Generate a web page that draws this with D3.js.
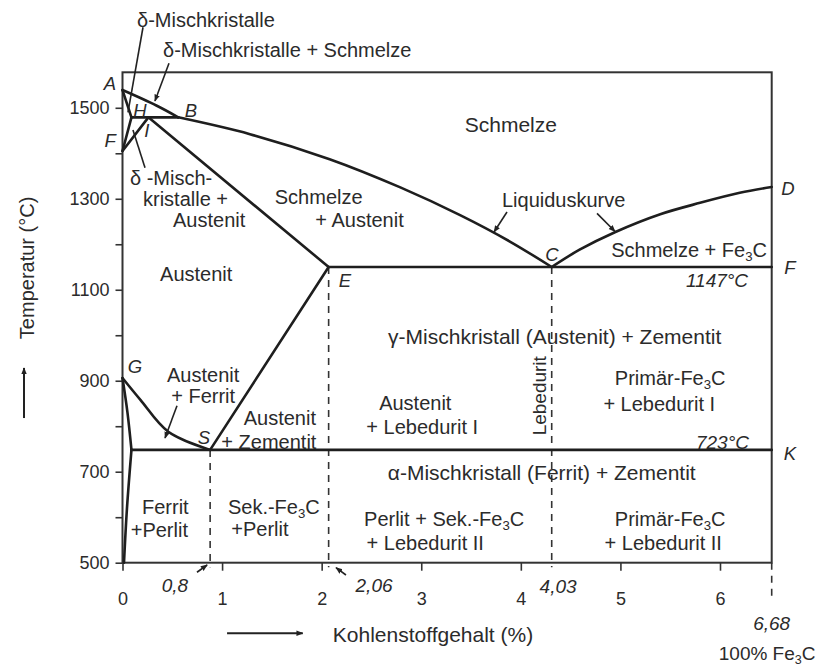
<!DOCTYPE html>
<html>
<head>
<meta charset="utf-8">
<script src="https://cdn.jsdelivr.net/npm/d3@7"></script>
<style>
  body { margin: 0; background: #fff; }
  svg { display: block; font-family: "Liberation Sans", Arial, sans-serif; }
  .lbl { fill: #2b2b2b; }
  .tick text { fill: #2b2b2b; }
</style>
</head>
<body>
<div class="graph"></div>
<script>
// points of the diagram: [carbon %, temperature °C] as drawn
var A = [0, 1539], H = [0.09, 1479], I = [0.26, 1479], B = [0.56, 1479];
var N = [0, 1405];                 // labelled "F" on the left side
var E = [2.07, 1150], C = [4.31, 1150], F = [6.68, 1150], D = [6.68, 1326];
var G = [0, 906], P = [0.09, 748], S = [0.88, 748], K = [6.68, 748], Q = [0.015, 500];

// curved boundaries
var liquidusAB = [A, [0.34, 1505], B];
var liquidusBC = [B, [1.28, 1442], [2.08, 1387], [2.79, 1325], [3.39, 1264], [3.89, 1206], C];
var liquidusCD = [C, [4.59, 1188], [4.95, 1227], [5.40, 1266], [5.80, 1291], [6.26, 1313], D];
var curveGS = [G, [0.18, 858], [0.46, 788], S];
var curveGP = [G, [0.05, 830], P];
var curvePQ = [P, [0.045, 620], Q];

// straight boundaries
var straightLines = [[A, H], [H, B], [N, H], [N, I], [I, E], [E, S], [E, F], [P, K]];

// dashed verticals (from the point down below the axis)
var dashedFrom = [S, E, C];
var dashedFe3C = [[6.68, 500], [6.68, 418]];

// axes
var xTicks = [0, 1, 2, 3, 4, 5, 6];
var yTicks = [500, 600, 700, 800, 900, 1000, 1100, 1200, 1300, 1400, 1500];
var yTickLabels = [500, 700, 900, 1100, 1300, 1500];

// texts: [text, carbon %, temperature]
var regionLabels = [
  ["Schmelze", 3.90, 1462],
  ["γ-Mischkristall (Austenit) + Zementit", 4.34, 998],
  ["α-Mischkristall (Ferrit) + Zementit", 4.21, 699]
];
var phaseLabels = [
  ["Austenit", 0.74, 1134],
  ["Schmelze", 1.97, 1304],
  ["+ Austenit", 2.38, 1253],
  ["Liquiduskurve", 4.43, 1298],
  ["Schmelze + Fe_3C", 5.69, 1187],
  ["Primär-Fe_3C", 5.50, 905],
  ["+ Lebedurit I", 5.39, 849],
  ["Austenit", 2.94, 851],
  ["+ Lebedurit I", 3.01, 798],
  ["Austenit", 1.58, 818],
  ["+ Zementit", 1.47, 765],
  ["Austenit", 0.81, 913],
  ["+ Ferrit", 0.81, 866],
  ["Ferrit", 0.43, 622],
  ["+Perlit", 0.37, 572],
  ["Sek.-Fe_3C", 1.52, 622],
  ["+Perlit", 1.38, 574],
  ["Perlit + Sek.-Fe_3C", 3.23, 596],
  ["+ Lebedurit II", 3.04, 543],
  ["Primär-Fe_3C", 5.50, 596],
  ["+ Lebedurit II", 5.43, 543]
];
var deltaLabels = [
  ["δ-Mischkristalle", 0.146, 1693],
  ["δ-Mischkristalle + Schmelze", 0.407, 1627],
  ["δ -Misch-", 0.075, 1345],
  ["kristalle +", 0.206, 1299],
  ["Austenit", 0.507, 1253]
];
var pointLabels = [
  ["A", -0.126, 1554], ["H", 0.176, 1493], ["I", 0.243, 1450], ["B", 0.688, 1495],
  ["F", -0.125, 1429], ["G", 0.126, 932], ["S", 0.818, 776], ["E", 2.234, 1121],
  ["C", 4.313, 1178], ["D", 6.894, 1323], ["F", 6.92, 1148], ["K", 6.92, 741]
];
var valueLabels = [
  ["0,8", 0.527, 451], ["2,06", 2.526, 451], ["4,03", 4.374, 449], ["6,68", 6.68, 367],
  ["1147°C", 5.97, 1121], ["723°C", 6.033, 765]
];
var lebeduritLabel = ["Lebedurit", 4.183, 867];

// leader lines: [from, to], arrowed or plain
var plainLeaders = [
  [[0.206, 1677], [0.055, 1490]],
  [[0.226, 1368], [0.105, 1451]]
];
var arrowLeaders = [
  [[0.467, 1598], [0.326, 1515]],
  [[0.547, 845], [0.427, 774]],
  [[0.748, 479], [0.85, 495]],
  [[2.244, 473], [2.144, 489]],
  [[3.861, 1271], [3.731, 1227]],
  [[4.765, 1268], [4.946, 1228]]
];
var axisArrows = [
  [[-0.989, 818], [-0.989, 928]],
  [[1.05, 345], [1.81, 345]]
];
var yTitle = ["Temperatur (°C)", -0.959, 1148];
var xTitle = ["Kohlenstoffgehalt (%)", 3.118, 341];
var fe3cTitle = ["100% Fe_3C", 6.62, 300];

var width = 826, height = 666;
var svg = d3.select(".graph").append("svg")
  .attr("width", width).attr("height", height);
svg.append("rect").attr("width", width).attr("height", height).attr("fill", "#fff");

var x = d3.scaleLinear().domain([0, 6, 6.68]).range([122.5, 720, 771.7]);
var y = d3.scaleLinear().domain([500, 1578]).range([562.7, 72.3]);

svg.append("defs").append("marker")
  .attr("id", "arr").attr("viewBox", "0 0 10 10")
  .attr("refX", 9).attr("refY", 5)
  .attr("markerWidth", 7).attr("markerHeight", 7)
  .attr("markerUnits", "userSpaceOnUse")
  .attr("orient", "auto")
  .append("path").attr("d", "M0,1L10,5L0,9z").attr("fill", "#222");

var ink = "#1e1e1e";
var line = d3.line().x(function (d) { return x(d[0]); }).y(function (d) { return y(d[1]); });
var smooth = d3.line().x(function (d) { return x(d[0]); }).y(function (d) { return y(d[1]); })
  .curve(d3.curveCatmullRom.alpha(0.5));

// axes
var yAxis = d3.axisLeft(y).tickValues(yTicks).tickSize(7).tickPadding(6)
  .tickFormat(function (d) { return yTickLabels.indexOf(d) >= 0 ? d : ""; });
var gy = svg.append("g").attr("transform", "translate(" + x(0) + ",0)").call(yAxis);
var xAxis = d3.axisBottom(x).tickValues(xTicks).tickSize(8).tickPadding(22)
  .tickFormat(d3.format("d"));
var gx = svg.append("g").attr("transform", "translate(0," + y(500) + ")").call(xAxis);
[gx, gy].forEach(function (g) {
  g.select(".domain").remove();
  g.selectAll(".tick line").attr("stroke", "#333").attr("stroke-width", 1.6);
  g.selectAll(".tick text").attr("font-size", 18).attr("font-family", "Liberation Sans, Arial, sans-serif");
});

// dashed verticals
var dash = svg.append("g").attr("stroke", "#333").attr("stroke-width", 1.6)
  .attr("stroke-dasharray", "7,6").attr("fill", "none");
dashedFrom.forEach(function (p) {
  dash.append("path").attr("d", line([p, [p[0], 490]]));
});
dash.append("path").attr("d", line(dashedFe3C));

// frame
svg.append("rect")
  .attr("x", x(0)).attr("y", y(1578))
  .attr("width", x(6.68) - x(0)).attr("height", y(500) - y(1578))
  .attr("fill", "none").attr("stroke", "#333").attr("stroke-width", 2);

// phase boundaries
var bnd = svg.append("g").attr("fill", "none").attr("stroke", ink)
  .attr("stroke-width", 2.6).attr("stroke-linejoin", "round").attr("stroke-linecap", "round");
[liquidusAB, liquidusBC, liquidusCD, curveGS, curveGP, curvePQ].forEach(function (c) {
  bnd.append("path").attr("d", smooth(c));
});
straightLines.forEach(function (l) {
  bnd.append("path").attr("d", line(l));
});

// leaders
var ld = svg.append("g").attr("fill", "none").attr("stroke", "#222").attr("stroke-width", 1.6);
plainLeaders.forEach(function (l) { ld.append("path").attr("d", line(l)); });
arrowLeaders.forEach(function (l) { ld.append("path").attr("d", line(l)).attr("marker-end", "url(#arr)"); });
axisArrows.forEach(function (l) {
  ld.append("path").attr("d", line(l)).attr("stroke-width", 2).attr("marker-end", "url(#arr)");
});

// text helper with subscript after "_"
function fill(t, str, size) {
  var parts = str.split("_");
  var shift = Math.round(size * 0.22);
  t.append("tspan").text(parts[0]);
  for (var i = 1; i < parts.length; i++) {
    t.append("tspan").attr("dy", shift).attr("font-size", size * 0.66).text(parts[i].charAt(0));
    t.append("tspan").attr("dy", -shift).text(parts[i].slice(1));
  }
}
function labels(data, size, anchor, italic) {
  data.forEach(function (d) {
    var t = svg.append("text").attr("class", "lbl")
      .attr("x", x(d[1])).attr("y", y(d[2]) + size * 0.35)
      .attr("font-size", size).attr("text-anchor", anchor)
      .attr("font-style", italic ? "italic" : null);
    fill(t, d[0], size);
  });
}
labels(regionLabels, 21, "middle", false);
labels(phaseLabels, 20, "middle", false);
labels(deltaLabels, 20, "start", false);
labels(pointLabels, 18.5, "middle", true);
labels(valueLabels, 19, "middle", true);
labels([xTitle], 21, "middle", false);
labels([fe3cTitle], 19, "middle", false);

[yTitle, lebeduritLabel].forEach(function (d, i) {
  svg.append("text").attr("class", "lbl")
    .attr("transform", "translate(" + x(d[1]) + "," + y(d[2]) + ") rotate(-90)")
    .attr("dy", "0.35em").attr("text-anchor", "middle")
    .attr("font-size", i === 0 ? 20 : 19)
    .text(d[0]);
});
</script>
</body>
</html>
